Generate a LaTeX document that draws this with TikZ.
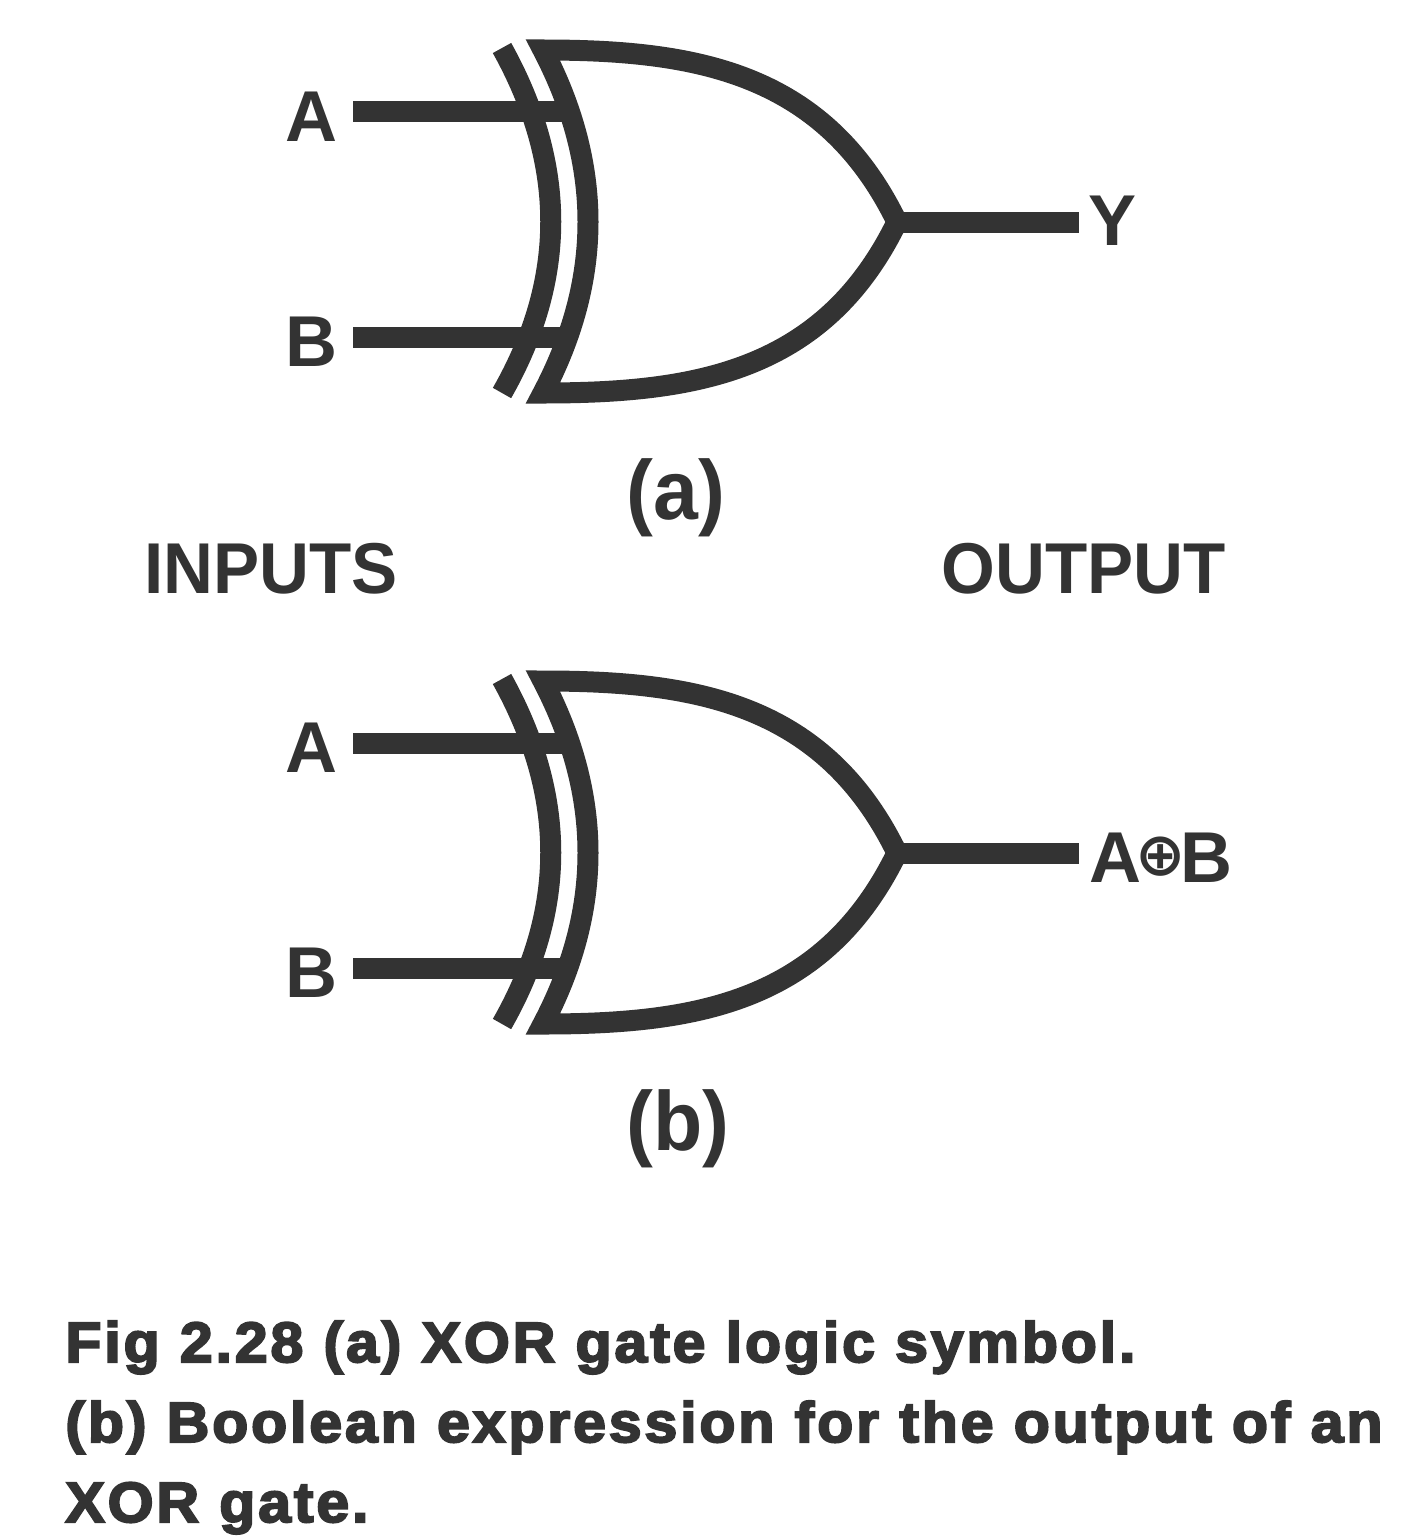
\documentclass[tikz,border=0pt]{standalone}
\usepackage{fontspec}
\setmainfont{Liberation Sans}
\newfontfamily\capfont[BoldFeatures={FakeBold=3.5,FakeStretch=1.04,LetterSpace=5,WordSpace=1.05}]{Liberation Sans}
\newfontfamily\narrowfont[BoldFeatures={FakeStretch=.96}]{Liberation Sans}
\newfontfamily\symfont{DejaVu Sans}
\definecolor{ink}{HTML}{333333}
\tikzset{
    wire/.style={line width=10.5pt,ink},
    gateline/.style={line width=10.5pt,ink,miter limit=20},
    letter/.style={text=ink,inner sep=0pt,font=\fontsize{36}{40}\selectfont\bfseries},
    heading/.style={text=ink,inner sep=0pt,font=\narrowfont\fontsize{36}{40}\selectfont\bfseries},
    paren/.style={text=ink,inner sep=0pt,font=\narrowfont\fontsize{42}{48}\selectfont\bfseries},
    caption/.style={text=ink,inner sep=0pt,anchor=base west,font=\capfont\fontsize{28.4}{32}\selectfont\bfseries},
}
\begin{document}
\begin{tikzpicture}[x=.5pt,y=-.5pt]
    \useasboundingbox (0,0) rectangle (1411,1536);
    \foreach \g/\d in {a/0,b/631}
    {
        \coordinate (\g tl) at (543,50+\d);
        \coordinate (\g bl) at (543,393+\d);
        \coordinate (\g tip) at (897,222+\d);
        \coordinate (\g end) at (1079,222+\d);
        \coordinate (\g ina) at (353,112+\d);
        \coordinate (\g inb) at (353,337+\d);
        \coordinate (\g ga) at (566,112+\d);
        \coordinate (\g gb) at (566,337+\d);
        \draw[gateline] (\g tl) .. controls (695,50+\d) and (824,72+\d) .. (\g tip)
            .. controls (824,372+\d) and (695,393+\d) .. (\g bl)
            .. controls (603,279+\d) and (603,165+\d) .. cycle;
        \draw[gateline] (502,48+\d) .. controls (567,165+\d) and (567,279+\d) .. (502,393+\d);
        \draw[wire] (\g ina)--(\g ga);
        \draw[wire] (\g inb)--(\g gb);
        \draw[wire] (\g tip)--(\g end);
        \node[letter] (\g A) at (311,117+\d){A};
        \node[letter] (\g B) at (311,342+\d){B};
    }
    \node[letter] (y) at (1112,221){Y};
    \node[letter] (xorout) at (1161,858){A\kern-3pt\raisebox{3.5pt}{\symfont\fontsize{30}{30}\selectfont ⊕}\kern-3pt B};
    \node[paren] (la) at (676,498){(a)};
    \node[paren] (lb) at (678,1129){(b)};
    \node[heading] (inputs) at (271,569){INPUTS};
    \node[heading] (output) at (1084,569){OUTPUT};
    \node[caption] (cap1) at (65,1362){Fig 2.28 (a) XOR gate logic symbol.};
    \node[caption] (cap2) at (65,1442){(b) Boolean expression for the output of an};
    \node[caption] (cap3) at (65,1522){XOR gate.};
\end{tikzpicture}
\end{document}
